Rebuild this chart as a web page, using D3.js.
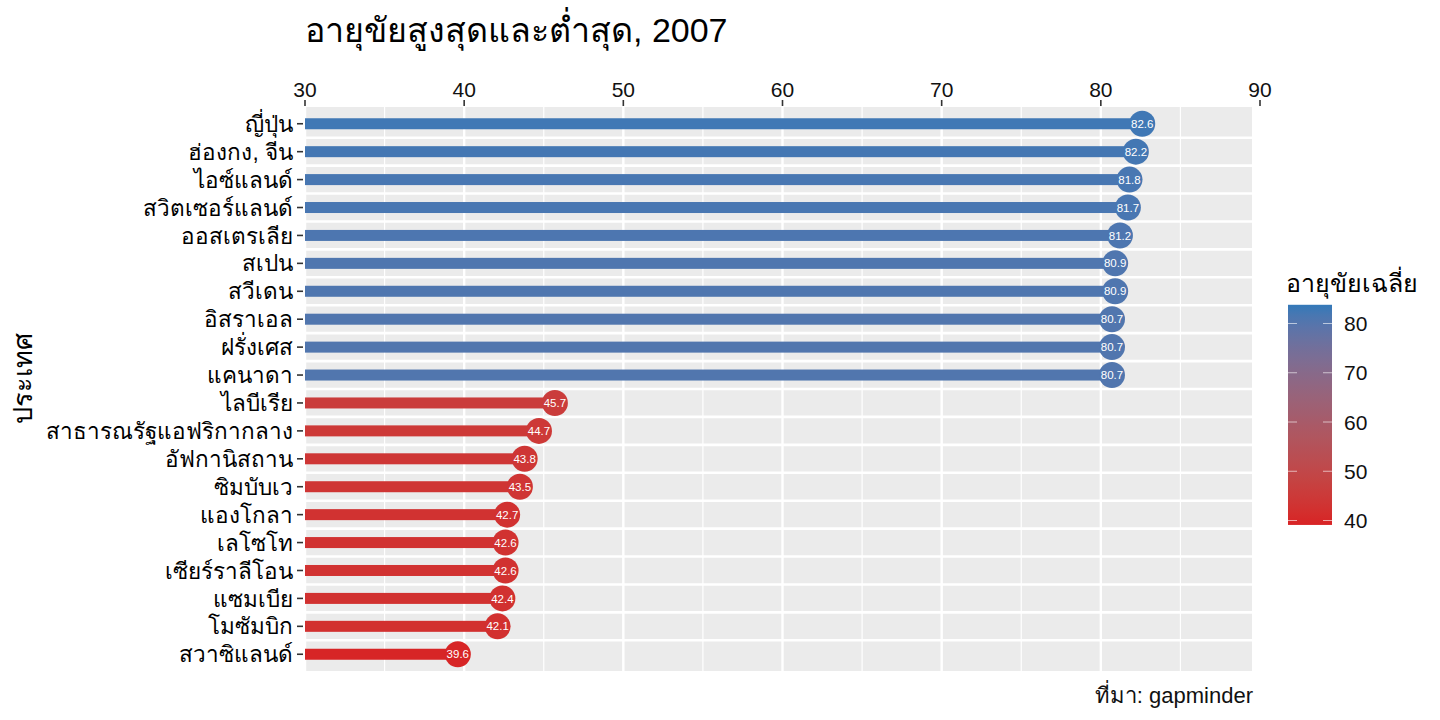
<!DOCTYPE html>
<html><head><meta charset="utf-8">
<script src="https://cdn.jsdelivr.net/npm/d3@7"></script>
<style>
body{margin:0;background:#fff;}
svg text{font-family:"Liberation Sans","Noto Sans","DejaVu Sans",sans-serif;}
</style></head>
<body><svg id="c" width="1440" height="720"></svg>
<script>
const countries = ["ญี่ปุ่น","ฮ่องกง, จีน","ไอซ์แลนด์","สวิตเซอร์แลนด์","ออสเตรเลีย","สเปน","สวีเดน","อิสราเอล","ฝรั่งเศส","แคนาดา","ไลบีเรีย","สาธารณรัฐแอฟริกากลาง","อัฟกานิสถาน","ซิมบับเว","แองโกลา","เลโซโท","เซียร์ราลีโอน","แซมเบีย","โมซัมบิก","สวาซิแลนด์"];
const lifeExp = [82.6,82.2,81.8,81.7,81.2,80.9,80.9,80.7,80.7,80.7,45.7,44.7,43.8,43.5,42.7,42.6,42.6,42.4,42.1,39.6];
const xTicks = [30,40,50,60,70,80,90];
const xMinor = [35,45,55,65,75,85];
const legendTicks = [40,50,60,70,80];
const titleText = "อายุขัยสูงสุดและต่ำสุด, 2007";
const yTitle = "ประเทศ";
const legendTitle = "อายุขัยเฉลี่ย";
const captionText = "ที่มา: gapminder";

const svg = d3.select("#c");
const panel = {left:305, right:1252, top:107, bottom:671};
const x = d3.scaleLinear().domain([30,90]).range([305,1260]);
const y = d3.scalePoint().domain(countries).range([panel.top, panel.bottom]).padding(0.6);
const color = d3.scaleLinear().domain([39.2, 83.8])
  .range(["#D82325","#3379B9"]).interpolate(d3.interpolateLab).clamp(true);

// panel
svg.append("rect").attr("x",panel.left).attr("y",panel.top)
  .attr("width",panel.right-panel.left).attr("height",panel.bottom-panel.top).attr("fill","#EBEBEB");
// minor vertical grid
svg.append("g").selectAll("line").data(xMinor).join("line")
  .attr("x1",d=>x(d)).attr("x2",d=>x(d)).attr("y1",panel.top).attr("y2",panel.bottom)
  .attr("stroke","#fff").attr("stroke-width",1.2);
// major vertical grid
svg.append("g").selectAll("line").data(xTicks.filter(d=>x(d)<panel.right)).join("line")
  .attr("x1",d=>x(d)).attr("x2",d=>x(d)).attr("y1",panel.top).attr("y2",panel.bottom)
  .attr("stroke","#fff").attr("stroke-width",2.4);
// horizontal lines between rows
const step = y.step();
const bounds = countries.slice(1).map(c=>y(c)-step/2);
svg.append("g").selectAll("line").data(bounds).join("line")
  .attr("x1",panel.left).attr("x2",panel.right).attr("y1",d=>d).attr("y2",d=>d)
  .attr("stroke","#fff").attr("stroke-width",2.6);

// bars (lollipop stems)
const data = countries.map((c,i)=>({c, v:lifeExp[i]}));
svg.append("g").selectAll("rect").data(data).join("rect")
  .attr("x",x(30)).attr("y",d=>y(d.c)-5.5).attr("width",d=>x(d.v)-x(30)).attr("height",11)
  .attr("fill",d=>color(d.v));
// points
svg.append("g").selectAll("circle").data(data).join("circle")
  .attr("cx",d=>x(d.v)).attr("cy",d=>y(d.c)).attr("r",13).attr("fill",d=>color(d.v));
svg.append("g").selectAll("text").data(data).join("text")
  .attr("x",d=>x(d.v)).attr("y",d=>y(d.c)).attr("dy","0.36em").attr("text-anchor","middle")
  .attr("fill","#fff").attr("font-size",11.5).text(d=>d.v.toFixed(1));

// top axis
const xa = svg.append("g");
xa.selectAll("line").data(xTicks).join("line")
  .attr("x1",d=>x(d)).attr("x2",d=>x(d)).attr("y1",panel.top-7).attr("y2",panel.top-1)
  .attr("stroke","#333").attr("stroke-width",1.6);
xa.selectAll("text").data(xTicks).join("text")
  .attr("x",d=>x(d)).attr("y",97).attr("text-anchor","middle").attr("font-size",21).attr("fill","#111")
  .text(d=>d);
// y axis
const ya = svg.append("g");
ya.selectAll("line").data(countries).join("line")
  .attr("x1",panel.left-8).attr("x2",panel.left-2).attr("y1",d=>y(d)).attr("y2",d=>y(d))
  .attr("stroke","#333").attr("stroke-width",1.6);
ya.selectAll("text").data(countries).join("text")
  .attr("x",panel.left-12).attr("y",d=>y(d)).attr("dy","0.36em").attr("text-anchor","end")
  .attr("font-size",22.5).attr("fill","#000").text(d=>d);

// title, axis title, caption
svg.append("text").attr("x",305).attr("y",42).attr("font-size",34).attr("fill","#000").text(titleText);
svg.append("text").attr("transform","translate(32,378) rotate(-90)").attr("text-anchor","middle")
  .attr("font-size",27).attr("fill","#000").text(yTitle);
svg.append("text").attr("x",1253).attr("y",703).attr("text-anchor","end")
  .attr("font-size",22).attr("fill","#111").text(captionText);

// legend
const ly = d3.scaleLinear().domain([40,80]).range([520.5,323.5]);
const lTop = ly(83.8), lBot = ly(39.1);
const defs = svg.append("defs");
const grad = defs.append("linearGradient").attr("id","lg").attr("x1",0).attr("x2",0).attr("y1",1).attr("y2",0);
d3.range(0,21).forEach(i=>{
  const v = 39.1 + (83.8-39.1)*i/20;
  grad.append("stop").attr("offset",i/20).attr("stop-color",color(v));
});
svg.append("text").attr("x",1286).attr("y",292).attr("font-size",25).attr("fill","#000").text(legendTitle);
svg.append("rect").attr("x",1288).attr("y",lTop).attr("width",44).attr("height",lBot-lTop).attr("fill","url(#lg)");
const lg = svg.append("g");
lg.selectAll("line.a").data(legendTicks).join("line").attr("class","a")
  .attr("x1",1288).attr("x2",1297).attr("y1",d=>ly(d)).attr("y2",d=>ly(d)).attr("stroke","#fff").attr("stroke-opacity",0.6);
lg.selectAll("line.b").data(legendTicks).join("line").attr("class","b")
  .attr("x1",1323).attr("x2",1332).attr("y1",d=>ly(d)).attr("y2",d=>ly(d)).attr("stroke","#fff").attr("stroke-opacity",0.6);
lg.selectAll("text").data(legendTicks).join("text")
  .attr("x",1344).attr("y",d=>ly(d)).attr("dy","0.36em").attr("font-size",21).attr("fill","#111").text(d=>d);
</script></body></html>
